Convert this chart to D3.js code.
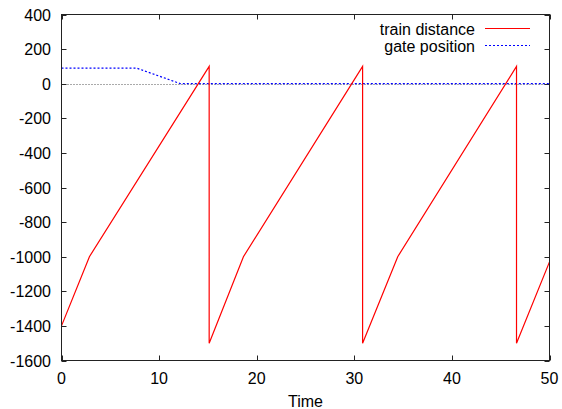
<!DOCTYPE html>
<html><head><meta charset="utf-8">
<script src="https://cdn.jsdelivr.net/npm/d3@7"></script>
<style>body{margin:0;background:#fff}svg{display:block}text{font-family:"Liberation Sans",Arial,sans-serif;font-size:16px;fill:#000}</style>
</head><body>
<script>
const trainTime = [0, 2.86, 15.13, 15.13, 18.64, 30.85, 30.85, 34.45, 46.62, 46.62, 50];
const trainDist = [-1400, -1000, 100, -1500, -1000, 100, -1500, -1000, 100, -1500, -1030];
const gateTime = [0, 7.7, 12.2, 50];
const gatePos = [90, 90, 0, 0];
const xTicks = [0, 10, 20, 30, 40, 50];
const yTicks = [400, 200, 0, -200, -400, -600, -800, -1000, -1200, -1400, -1600];
const seriesNames = ["train distance", "gate position"];
const xLabel = "Time";

const W = 562, H = 409;
const L = 61.5, R = 549.5, T = 14.5, B = 360.5;
const svg = d3.select("body").append("svg").attr("width", W).attr("height", H);
const x = d3.scaleLinear().domain([0, 50]).range([L, R]);
const y = d3.scaleLinear().domain([-1600, 400]).range([B, T]);

// zero axis
svg.append("line").attr("x1", L).attr("x2", R).attr("y1", Math.round(y(0)) + 0.5).attr("y2", Math.round(y(0)) + 0.5)
  .attr("stroke", "#555").attr("stroke-width", 1).attr("stroke-dasharray", "1,2");

// ticks (inward, mirrored)
const tk = 5;
const g = svg.append("g").attr("stroke", "#222").attr("stroke-width", 1);
xTicks.forEach(v => {
  const px = Math.round(x(v)) + 0.5;
  g.append("line").attr("x1", px).attr("x2", px).attr("y1", B).attr("y2", B - tk);
  g.append("line").attr("x1", px).attr("x2", px).attr("y1", T).attr("y2", T + tk);
});
yTicks.forEach(v => {
  const py = Math.round(y(v)) + 0.5;
  g.append("line").attr("x1", L).attr("x2", L + tk).attr("y1", py).attr("y2", py);
  g.append("line").attr("x1", R).attr("x2", R - tk).attr("y1", py).attr("y2", py);
});

// tick labels
xTicks.forEach(v => {
  svg.append("text").attr("x", x(v)).attr("y", 384).attr("text-anchor", "middle").text(v);
});
yTicks.forEach(v => {
  svg.append("text").attr("x", 51).attr("y", y(v) + 6).attr("text-anchor", "end").text(v);
});
svg.append("text").attr("x", (L + R) / 2).attr("y", 407).attr("text-anchor", "middle").text(xLabel);

// lines
const line = d3.line().x(d => x(d[0])).y(d => y(d[1]));
const trainData = trainTime.map((t, i) => [t, trainDist[i]]);
const gateData = gateTime.map((t, i) => [t, gatePos[i]]);
svg.append("path").datum(gateData).attr("d", line).attr("fill", "none")
  .attr("stroke", "#0000ff").attr("stroke-width", 1.2).attr("stroke-dasharray", "2,2");
svg.append("path").datum(trainData).attr("d", line).attr("fill", "none")
  .attr("stroke", "#ff0000").attr("stroke-width", 1.2);

// border
svg.append("rect").attr("x", L).attr("y", T).attr("width", R - L).attr("height", B - T)
  .attr("fill", "none").attr("stroke", "#222").attr("stroke-width", 1);

// legend
const leg = [{name: seriesNames[0], color: "#ff0000", dash: null, y: 28.5},
             {name: seriesNames[1], color: "#0000ff", dash: "2,2", y: 45.5}];
leg.forEach(d => {
  svg.append("text").attr("x", 475).attr("y", d.y + 6).attr("text-anchor", "end").text(d.name);
  const l = svg.append("line").attr("x1", 485).attr("x2", 530).attr("y1", d.y).attr("y2", d.y)
    .attr("stroke", d.color).attr("stroke-width", 1.2);
  if (d.dash) l.attr("stroke-dasharray", d.dash);
});
</script>
</body></html>
